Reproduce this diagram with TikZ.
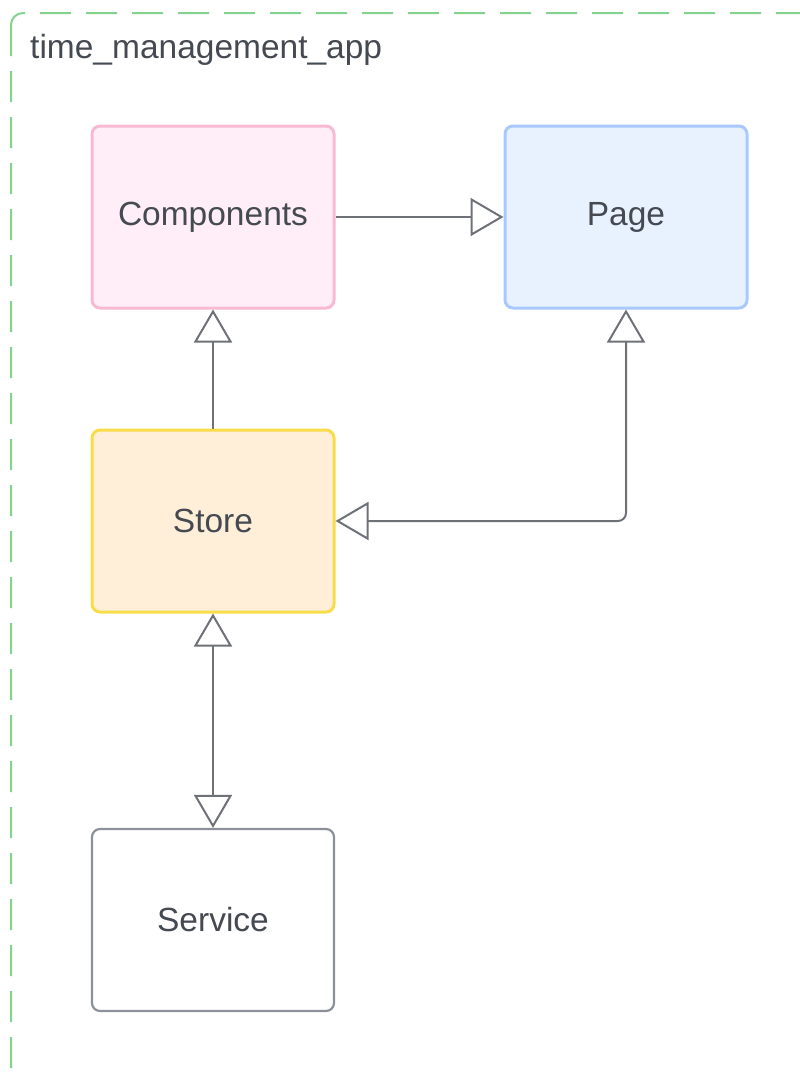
\documentclass[tikz,border=0pt]{standalone}
\usepackage{fontspec}
\setmainfont{Liberation Sans}
\usetikzlibrary{arrows.meta}
\definecolor{txt}{HTML}{454A52}
\definecolor{linec}{HTML}{6E7278}
\definecolor{grn}{HTML}{82D38E}
\definecolor{pinkF}{HTML}{FFEEF8}
\definecolor{pinkD}{HTML}{F8B9D3}
\definecolor{blueF}{HTML}{E8F2FF}
\definecolor{blueD}{HTML}{A9C8FB}
\definecolor{yelF}{HTML}{FFEFD8}
\definecolor{yelD}{HTML}{F8DC4A}
\definecolor{grayD}{HTML}{8C9098}
\tikzset{
  box/.style={draw, line width=3pt, rounded corners=8pt, minimum width=242pt, minimum height=182pt,
    inner sep=0pt, font=\fontsize{33.5}{38}\selectfont, text=txt},
  conn/.style={draw=linec, line width=2pt},
  tri/.tip={Triangle[open, length=33pt, width=38pt, line width=2pt, fill=white]}
}
\begin{document}
\begin{tikzpicture}[x=1pt,y=-1pt]
\useasboundingbox (0,0) rectangle (800,1072);
\begin{scope}
\clip (0,0) rectangle (800,1072);
\draw[grn, line width=2pt, dash pattern=on 31pt off 15pt, rounded corners=12pt] (11,13) rectangle (860,1140);
\end{scope}
\node[anchor=base west, inner sep=0pt, font=\fontsize{33.5}{38}\selectfont, text=txt] (title) at (30,58) {time\_management\_app};
\node[box, draw=pinkD, fill=pinkF] (comp) at (213,217) {Components};
\node[box, draw=blueD, fill=blueF] (page) at (626,217) {Page};
\node[box, draw=yelD, fill=yelF] (store) at (213,521) {Store};
\node[box, draw=grayD, fill=white, line width=2.2pt] (serv) at (213,920) {Service};
\draw[conn, -tri] (comp.east) -- (page.west);
\draw[conn, -tri] (store.north) -- (comp.south);
\draw[conn, tri-tri, rounded corners=8pt] (page.south) |- (store.east);
\draw[conn, tri-tri] (store.south) -- (serv.north);
\end{tikzpicture}
\end{document}
